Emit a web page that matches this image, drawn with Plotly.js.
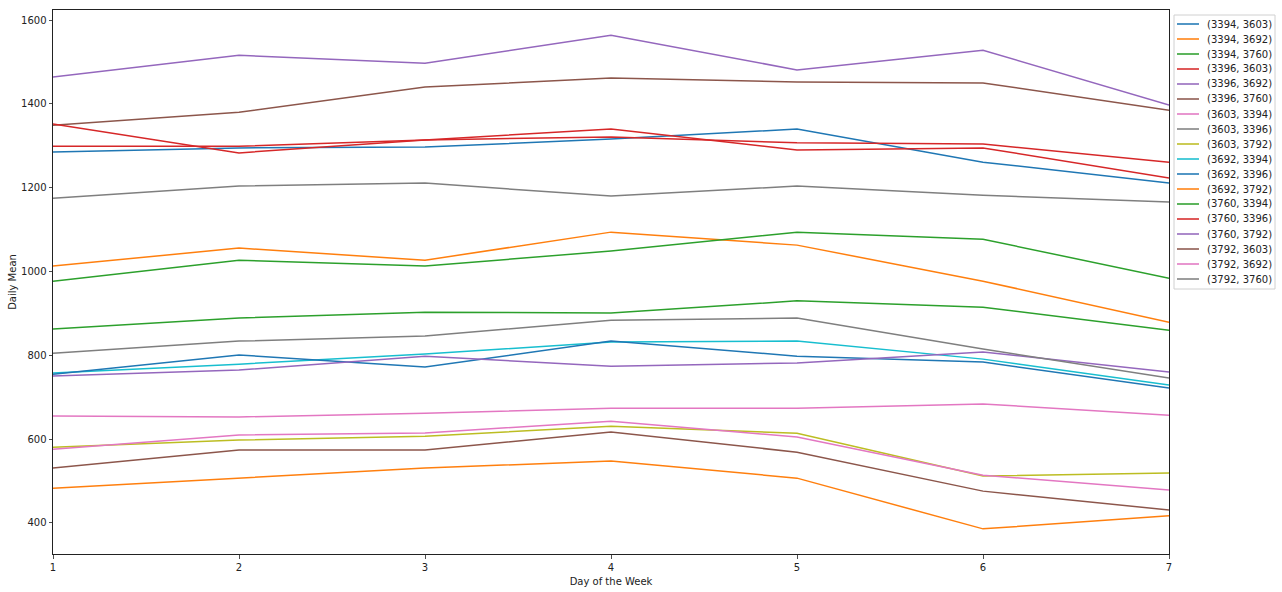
<!DOCTYPE html>
<html>
<head>
<meta charset="utf-8">
<script src="https://cdn.plot.ly/plotly-3.0.1.min.js"></script>
<style>html,body{margin:0;padding:0;background:#fff;}#chart{width:1282px;height:592px;}</style>
</head>
<body>
<div id="chart"></div>
<script>
const days = [1, 2, 3, 4, 5, 6, 7];
const pairNames = ["(3394, 3603)", "(3394, 3692)", "(3394, 3760)", "(3396, 3603)", "(3396, 3692)", "(3396, 3760)",
  "(3603, 3394)", "(3603, 3396)", "(3603, 3792)", "(3692, 3394)", "(3692, 3396)", "(3692, 3792)",
  "(3760, 3394)", "(3760, 3396)", "(3760, 3792)", "(3792, 3603)", "(3792, 3692)", "(3792, 3760)"];
const s3394_3603 = [1285, 1295, 1297, 1316, 1340, 1261, 1211];
const s3394_3692 = [1013, 1056, 1027, 1094, 1063, 977, 879];
const s3394_3760 = [977, 1027, 1013, 1049, 1094, 1077, 984];
const s3396_3603 = [1299, 1299, 1314, 1321, 1307, 1304, 1261];
const s3396_3692 = [1464, 1516, 1497, 1564, 1481, 1528, 1397];
const s3396_3760 = [1349, 1380, 1440, 1462, 1452, 1450, 1385];
const s3603_3394 = [655, 653, 662, 674, 674, 684, 657];
const s3603_3396 = [1175, 1204, 1211, 1180, 1204, 1182, 1166];
const s3603_3792 = [581, 598, 607, 631, 614, 512, 519];
const s3692_3394 = [758, 779, 803, 832, 834, 791, 729];
const s3692_3396 = [755, 801, 772, 834, 798, 784, 722];
const s3692_3792 = [483, 507, 531, 548, 507, 386, 417];
const s3760_3394 = [863, 889, 903, 901, 930, 915, 860];
const s3760_3396 = [1352, 1283, 1314, 1340, 1290, 1295, 1223];
const s3760_3792 = [751, 765, 798, 774, 782, 808, 760];
const s3792_3603 = [531, 574, 574, 617, 569, 476, 431];
const s3792_3692 = [576, 610, 615, 643, 605, 514, 479];
const s3792_3760 = [805, 834, 846, 884, 889, 815, 746];
const yTicks = [400, 600, 800, 1000, 1200, 1400, 1600];

const seriesValues = [s3394_3603, s3394_3692, s3394_3760, s3396_3603, s3396_3692, s3396_3760,
  s3603_3394, s3603_3396, s3603_3792, s3692_3394, s3692_3396, s3692_3792,
  s3760_3394, s3760_3396, s3760_3792, s3792_3603, s3792_3692, s3792_3760];
const palette = ['#1f77b4', '#ff7f0e', '#2ca02c', '#d62728', '#9467bd', '#8c564b', '#e377c2', '#7f7f7f', '#bcbd22', '#17becf'];

const traces = seriesValues.map((vals, i) => ({
  x: days, y: vals, name: pairNames[i], type: 'scatter', mode: 'lines',
  line: {color: palette[i % 10], width: 1.5}, showlegend: false
}));

// plot area geometry (pixels)
const W = 1282, H = 592, L = 53, R = 1169, T = 10, B = 554;
const px2x = p => (p - L) / (R - L);
const px2y = p => (B - p) / (B - T);

const shapes = [{
  type: 'rect', xref: 'paper', yref: 'paper', layer: 'above',
  x0: px2x(1174), x1: px2x(1275), y0: px2y(15), y1: px2y(289),
  line: {color: '#d0d0d0', width: 1}, fillcolor: 'rgba(255,255,255,0.8)'
}];
const annotations = [];
pairNames.forEach((nm, i) => {
  const cy = 24 + i * 15;
  shapes.push({type: 'line', xref: 'paper', yref: 'paper', layer: 'above',
    x0: px2x(1177), x1: px2x(1199), y0: px2y(cy), y1: px2y(cy),
    line: {color: palette[i % 10], width: 1.8}, opacity: 0.85});
  annotations.push({xref: 'paper', yref: 'paper', x: px2x(1205), y: px2y(cy),
    xanchor: 'left', yanchor: 'middle', showarrow: false, text: nm,
    font: {family: 'DejaVu Sans', size: 10, color: '#222'}});
});

const layout = {
  width: W, height: H,
  margin: {l: L, r: W - R, t: T, b: H - B, pad: 0},
  paper_bgcolor: '#fff', plot_bgcolor: '#fff',
  font: {family: 'DejaVu Sans', size: 10, color: '#222'},
  showlegend: false,
  xaxis: {
    range: [1, 7], tickvals: days, ticks: 'outside', ticklen: 3.5, tickwidth: 0.8, tickcolor: '#222',
    showgrid: false, zeroline: false, showline: true, linecolor: '#222', linewidth: 1, mirror: true,
    title: {text: 'Day of the Week', font: {size: 10}, standoff: 6},
    tickfont: {size: 10}
  },
  yaxis: {
    range: [326, 1624], tickvals: yTicks, ticks: 'outside', ticklen: 3.5, tickwidth: 0.8, tickcolor: '#222',
    showgrid: false, zeroline: false, showline: true, linecolor: '#222', linewidth: 1, mirror: true,
    title: {text: 'Daily Mean', font: {size: 10}, standoff: 2},
    tickfont: {size: 10}
  },
  shapes: shapes,
  annotations: annotations
};

Plotly.newPlot('chart', traces, layout, {displayModeBar: false, staticPlot: true});
</script>
</body>
</html>
